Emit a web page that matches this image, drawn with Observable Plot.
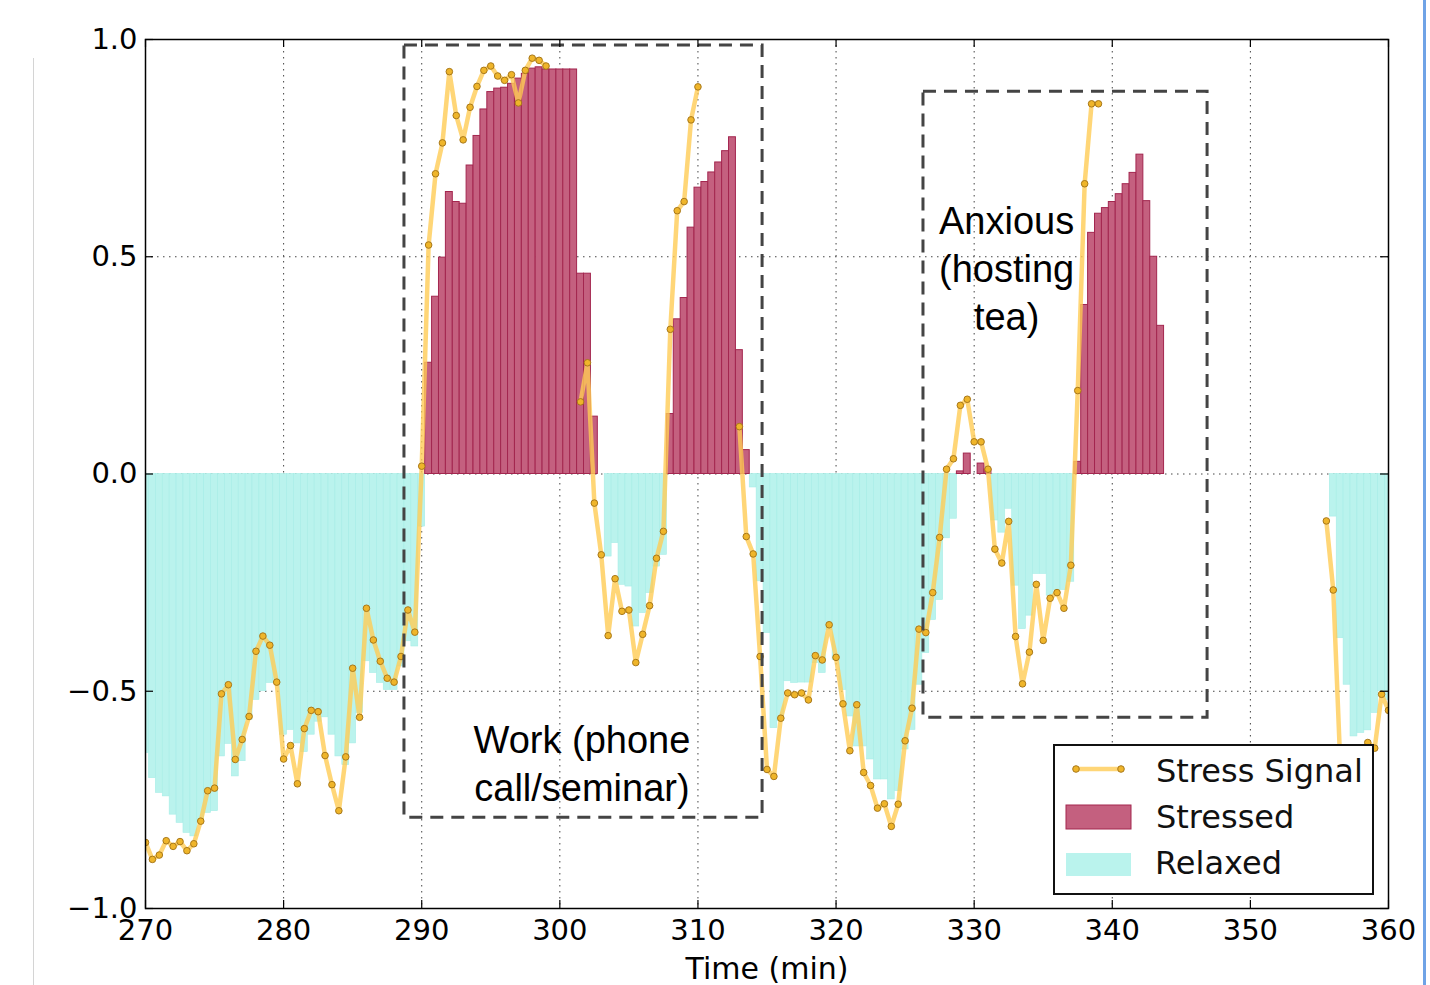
<!DOCTYPE html>
<html><head><meta charset="utf-8">
<script src="https://cdn.jsdelivr.net/npm/d3@7"></script>
<script src="https://cdn.jsdelivr.net/npm/@observablehq/plot@0.6"></script>
<style>
body{margin:0;background:#fff;width:1430px;height:985px;overflow:hidden;position:relative;font-family:"DejaVu Sans";}
#chart{position:absolute;left:0;top:0;}
#legend{position:absolute;left:1053px;top:744px;}
#edgeL{position:absolute;left:33px;top:58px;width:1px;height:927px;background:#d4d4d4;}
#edgeR{position:absolute;left:1423px;top:0;width:3px;height:985px;background:#6fa3e6;}
</style></head><body>
<div id="chart"></div>
<svg id="legend" width="324" height="154"></svg>
<div id="edgeL"></div><div id="edgeR"></div>
<script>
// time grid (minutes), one sample every half minute
const timeStart = 270, timeEnd = 360, timeStep = 0.5;

// Stress signal (null = no data)
const stressSignal = [
-0.848,-0.887,-0.877,-0.844,-0.857,-0.846,-0.867,-0.851,-0.799,-0.729,
-0.723,-0.506,-0.485,-0.657,-0.611,-0.558,-0.408,-0.373,-0.394,-0.479,
-0.656,-0.625,-0.713,-0.586,-0.544,-0.547,-0.648,-0.715,-0.775,-0.651,
-0.447,-0.56,-0.309,-0.382,-0.431,-0.470,-0.479,-0.420,-0.313,-0.364,
0.018,0.527,0.691,0.762,0.926,0.825,0.769,0.844,0.892,0.929,
0.939,0.916,0.906,0.919,0.854,0.929,0.957,0.952,0.939,null,
null,null,null,0.166,0.256,-0.067,-0.186,-0.372,-0.241,-0.316,
-0.313,-0.434,-0.369,-0.303,-0.194,-0.132,0.333,0.606,0.627,0.815,
0.891,null,null,null,null,null,0.109,-0.144,-0.184,-0.420,
-0.680,-0.696,-0.562,-0.504,-0.508,-0.504,-0.520,-0.418,-0.428,-0.347,
-0.422,-0.529,-0.637,-0.531,-0.687,-0.717,-0.769,-0.759,-0.811,-0.760,
-0.614,-0.539,-0.357,-0.365,-0.273,-0.146,0.011,0.035,0.158,0.172,
0.074,0.074,0.011,-0.173,-0.205,-0.109,-0.374,-0.483,-0.410,-0.254,
-0.383,-0.286,-0.273,-0.309,-0.210,0.192,0.668,0.852,0.852,null,
null,null,null,null,null,null,null,null,null,null,
null,null,null,null,null,null,null,null,null,null,
null,null,null,null,null,null,null,null,null,null,
null,-0.108,-0.267,-0.66,-0.80,-0.85,-0.75,-0.618,-0.631,-0.507,
-0.544
];

// Stressed (>0) / Relaxed (<0) bar heights
const stateBars = [
-0.642,-0.700,-0.734,-0.742,-0.784,-0.803,-0.826,-0.834,-0.80,-0.78,
-0.776,-0.65,-0.621,-0.696,-0.661,-0.566,-0.52,-0.50,-0.481,-0.474,
-0.60,-0.589,-0.62,-0.64,-0.60,-0.57,-0.56,-0.60,-0.65,-0.67,
-0.62,-0.55,-0.431,-0.458,-0.481,-0.497,-0.497,-0.443,-0.385,-0.397,
-0.121,0.256,0.408,0.498,0.649,0.626,0.622,0.710,0.778,0.839,
0.879,0.887,0.889,0.898,0.91,0.921,0.933,0.936,0.931,0.931,
0.931,0.931,0.931,0.461,0.461,0.132,0,-0.19,-0.159,-0.255,
-0.259,-0.351,-0.320,-0.274,-0.213,-0.186,0.138,0.356,0.405,0.567,
0.659,0.672,0.694,0.717,0.743,0.775,0.285,0.055,-0.031,-0.247,
-0.366,-0.585,-0.569,-0.477,-0.481,-0.48,-0.48,-0.435,-0.458,-0.359,
-0.428,-0.497,-0.558,-0.627,-0.627,-0.657,-0.703,-0.703,-0.749,-0.73,
-0.634,-0.589,-0.485,-0.412,-0.336,-0.29,-0.148,-0.103,0.006,0.047,
0,0.024,0.01,-0.107,-0.135,-0.080,-0.257,-0.357,-0.326,-0.23,
-0.23,-0.28,-0.267,-0.267,-0.248,0.028,0.389,0.555,0.599,0.612,
0.626,0.644,0.667,0.693,0.735,0.628,0.5,0.341,0,0,
0,0,0,0,0,0,0,0,0,0,
0,0,0,0,0,0,0,0,0,0,
0,0,-0.098,-0.378,-0.485,-0.604,-0.596,-0.59,-0.55,-0.50,
-0.52
];

const xTicks = [270,280,290,300,310,320,330,340,350,360];
const yTicks = [-1,-0.5,0,0.5,1];
const xLabel = "Time (min)";
const legendLabels = ["Stress Signal","Stressed","Relaxed"];

// annotation boxes & notes (data coordinates)
const boxX1 = [288.75, 326.33], boxX2 = [314.68, 346.9];
const boxY1 = [-0.791, -0.561], boxY2 = [0.986, 0.880];
const noteX = [301.6, 332.35], noteY = [-0.662, 0.478];
const noteText = ["Work (phone\ncall/seminar)", "Anxious\n(hosting\ntea)"];

const C = {
  stressed: "#c4607f", stressedEdge: "#a3264f",
  relaxed: "#baf3ed",
  line: "#ffcc55", dot: "#efb52a", dotEdge: "#a8781a"
};

const W = 1430, H = 985, mL = 145, mR = 42, mT = 39, mB = 77;
const yDom = [-1, 1], xDom = [timeStart, timeEnd];
const tickPx = 8;
const yTickLen = tickPx * (yDom[1] - yDom[0]) / (H - mT - mB);
const xTickLen = tickPx * (xDom[1] - xDom[0]) / (W - mL - mR);

const times = d3.range(timeStart, timeEnd + timeStep / 2, timeStep);
const rows = times.map((t, i) => ({t, s: stressSignal[i], b: stateBars[i]}));
const stressed = rows.filter(d => d.b > 0);
const relaxed = rows.filter(d => d.b < 0);
const boxes = boxX1.map((x1, i) => ({x1, x2: boxX2[i], y1: boxY1[i], y2: boxY2[i]}));
const notes = noteX.map((x, i) => ({x, y: noteY[i], text: noteText[i]}));
const half = timeStep / 2;
const fmt = d3.format(".1f");

const chart = Plot.plot({
  width: W, height: H,
  marginLeft: mL, marginRight: mR, marginTop: mT, marginBottom: mB,
  x: {domain: xDom},
  y: {domain: yDom},
  style: {fontFamily: "DejaVu Sans", fontSize: "29px", background: "white", color: "black"},
  marks: [
    Plot.gridX(xTicks, {stroke: "#444", strokeOpacity: 1, strokeWidth: 1, strokeDasharray: "1.5,4.5"}),
    Plot.gridY(yTicks, {stroke: "#444", strokeOpacity: 1, strokeWidth: 1, strokeDasharray: "1.5,4.5"}),
    Plot.rect(relaxed, {x1: d => d.t - half, x2: d => d.t + half, y1: 0, y2: "b", fill: C.relaxed, stroke: "#a6ede6", strokeWidth: 0.6, clip: true}),
    Plot.rect(stressed, {x1: d => d.t - half, x2: d => d.t + half, y1: 0, y2: "b", fill: C.stressed, stroke: C.stressedEdge, strokeWidth: 1, clip: true}),
    Plot.line(rows, {x: "t", y: "s", stroke: C.line, strokeWidth: 4.5, strokeOpacity: 0.8, clip: true}),
    Plot.dot(rows.filter(d => d.s != null), {x: "t", y: "s", r: 3.3, fill: C.dot, stroke: C.dotEdge, strokeWidth: 1, clip: true}),
    Plot.rect(boxes, {x1: "x1", x2: "x2", y1: "y1", y2: "y2", fill: "none", stroke: "#444", strokeWidth: 3, strokeDasharray: "13,8"}),
    Plot.text(notes, {x: "x", y: "y", text: "text", fontFamily: "Liberation Sans, Arial, sans-serif", fontSize: 38, lineHeight: 1.263, fill: "black"}),
    // inward tick marks on all four sides
    Plot.ruleX(xTicks, {x: d => d, y1: yDom[0], y2: yDom[0] + yTickLen, stroke: "black", strokeWidth: 1.2}),
    Plot.ruleX(xTicks, {x: d => d, y1: yDom[1], y2: yDom[1] - yTickLen, stroke: "black", strokeWidth: 1.2}),
    Plot.ruleY(yTicks, {y: d => d, x1: xDom[0], x2: xDom[0] + xTickLen, stroke: "black", strokeWidth: 1.2}),
    Plot.ruleY(yTicks, {y: d => d, x1: xDom[1], x2: xDom[1] - xTickLen, stroke: "black", strokeWidth: 1.2}),
    Plot.frame({stroke: "black", strokeWidth: 1.5}),
    Plot.axisX(xTicks, {anchor: "bottom", tickSize: 0, tickPadding: 11, label: null, tickFormat: d => String(d)}),
    Plot.axisY(yTicks, {anchor: "left", tickSize: 0, tickPadding: 8, label: null, tickFormat: fmt}),
    Plot.text([xLabel], {frameAnchor: "bottom", dy: 70, fontSize: 30, fill: "black"})
  ]
});
document.getElementById("chart").appendChild(chart);

// legend (inside the plot area, lower right)
const lg = d3.select("#legend");
lg.append("rect").attr("x", 1).attr("y", 1).attr("width", 319).attr("height", 149)
  .attr("fill", "white").attr("stroke", "#111").attr("stroke-width", 2);
lg.append("line").attr("x1", 23).attr("x2", 68).attr("y1", 25).attr("y2", 25)
  .attr("stroke", C.line).attr("stroke-width", 4.5).attr("stroke-opacity", 0.8);
[23, 68].forEach(cx => lg.append("circle").attr("cx", cx).attr("cy", 25).attr("r", 3.3)
  .attr("fill", C.dot).attr("stroke", C.dotEdge));
lg.append("rect").attr("x", 13).attr("y", 61).attr("width", 65).attr("height", 24)
  .attr("fill", C.stressed).attr("stroke", C.stressedEdge).attr("stroke-width", 1);
lg.append("rect").attr("x", 13).attr("y", 109).attr("width", 65).attr("height", 23)
  .attr("fill", C.relaxed);
const ly = [38, 84, 130], lx = [103, 103, 102];
legendLabels.forEach((s, i) => lg.append("text").attr("x", lx[i]).attr("y", ly[i])
  .attr("font-size", 32).attr("font-family", "DejaVu Sans").attr("fill", "#111").text(s));
</script>
</body></html>
